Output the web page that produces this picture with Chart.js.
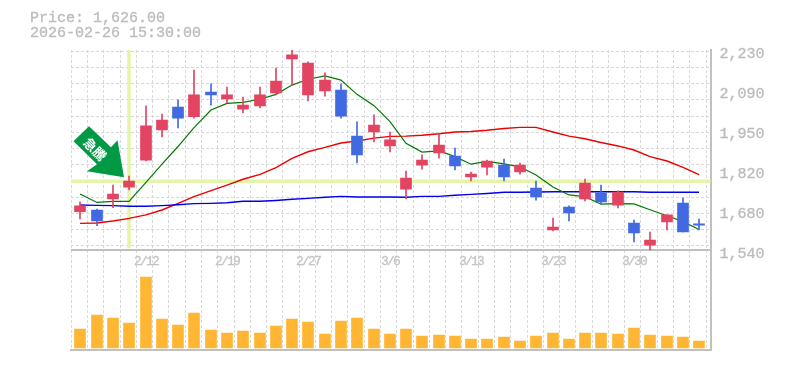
<!DOCTYPE html>
<html>
<head>
<meta charset="utf-8">
<script src="https://cdn.jsdelivr.net/npm/chart.js@4"></script>
<style>
html, body { margin: 0; padding: 0; background: #fff; }
#wrap { position: relative; width: 785px; height: 370px; }
#info { position: absolute; left: 30px; top: 11px; color: #bcbcbc; font: 15px/15px "Liberation Mono", monospace; white-space: pre; -webkit-text-stroke: 0.35px #bcbcbc; }
</style>
</head>
<body>
<div id="wrap">
  <canvas id="grafico" width="785" height="370"></canvas>
  <div id="info">Price: 1,626.00
2026-02-26 15:30:00</div>
</div>
<script>
// valores
var abertura = [1672,1678,1716,1757,1850,1954,2033,2000,2085,2061,2026,2037,2082,2199,2075,2089,2092,1933,1947,1899,1750,1833,1875,1864,1792,1826,1833,1809,1754,1609,1688,1716,1737,1695,1633,1557,1637,1702,1630]
var maxima = [1706,1681,1764,1795,2037,2009,2058,2161,2113,2102,2068,2102,2168,2230,2189,2151,2113,1982,2006,1947,1812,1868,1940,1892,1809,1850,1854,1840,1778,1650,1692,1785,1764,1744,1643,1602,1661,1719,1647]
var minima = [1647,1624,1686,1747,1847,1930,1961,1995,2040,2047,2013,2030,2075,2109,2054,2071,1995,1840,1913,1878,1716,1819,1857,1816,1778,1799,1778,1802,1712,1606,1640,1709,1699,1685,1568,1540,1609,1602,1609]
var fechamento = [1692,1640,1733,1778,1968,1988,1995,2075,2075,2075,2040,2075,2123,2213,2185,2126,2002,1868,1971,1920,1788,1850,1902,1830,1802,1847,1792,1833,1723,1619,1668,1771,1706,1740,1599,1574,1661,1602,1626]
var volume = [57,99,90,75,213,87,69,105,54,45,51,45,66,87,78,42,81,90,57,42,57,36,39,36,27,27,33,21,36,45,27,45,45,42,60,39,36,33,21]
var media_curta = [1733,1704,1708,1708,1773,1836,1897,1962,2023,2046,2049,2060,2077,2109,2129,2141,2126,2077,2038,1983,1908,1878,1882,1862,1836,1846,1837,1827,1799,1757,1730,1724,1698,1700,1699,1679,1658,1638,1611]
var media_longa = [1632,1633,1640,1649,1661,1678,1701,1724,1745,1764,1784,1801,1824,1856,1879,1894,1909,1916,1926,1932,1933,1936,1941,1947,1949,1953,1959,1963,1963,1947,1933,1924,1911,1899,1885,1862,1847,1825,1800]
var media_anual = [1695,1694,1693,1691,1691,1693,1696,1700,1701,1703,1708,1708,1711,1715,1718,1722,1725,1723,1723,1723,1722,1725,1725,1729,1732,1735,1739,1739,1740,1741,1741,1741,1741,1741,1741,1739,1739,1739,1739]
var datas_indice = [4,9,14,19,24,29,34]
var datas_texto = ['2/12','2/19','2/27','3/6','3/13','3/23','3/30']
var precos_eixo = [2230,2092,1954,1816,1678,1540]
var precos_texto = ['2,230','2,090','1,950','1,820','1,680','1,540']
var linha_sinal_x = 3
var linha_sinal_y = 1777

var indices = abertura.map((v, i) => i)
var X_MIN = -0.614, X_MAX = 38.7, GRADE_X = -0.6, PRECO_MIN = 1195, PRECO_MAX = 2230
var VERMELHO = '#e24462', AZUL = '#4169e1', AMARELO = '#e4f5a9', CINZA = '#c0c0c0', GRADE = '#d8d8d8'

function corCandle(i) {
    return fechamento[i] >= abertura[i] ? VERMELHO : AZUL
}

function linha(valores, cor, largura) {
    return {
        type: 'line', yAxisID: 'y', order: 4,
        data: indices.map(i => ({x: i, y: valores[i]})),
        borderColor: cor, borderWidth: largura, pointRadius: 0, tension: 0
    }
}

function linhaReta(pontos, cor, largura, ordem) {
    return {
        type: 'line', yAxisID: 'y', order: ordem, data: pontos,
        borderColor: cor, borderWidth: largura, pointRadius: 0, tension: 0
    }
}

// seta verde e datas do eixo, ancoradas nas escalas
const pluginExtras = {
    id: 'extras',
    afterDatasetsDraw(chart) {
        const ctx = chart.ctx
        const px = chart.scales.x.getPixelForValue(linha_sinal_x)
        const py = chart.scales.y.getPixelForValue(linha_sinal_y)
        ctx.save()
        ctx.translate(px, py)
        ctx.fillStyle = '#009944'
        ctx.beginPath()
        ctx.moveTo(-40, -55)
        ctx.lineTo(-55.5, -40)
        ctx.lineTo(-32, -17)
        ctx.lineTo(-42, -10)
        ctx.lineTo(-5, -4)
        ctx.lineTo(-11.5, -41)
        ctx.lineTo(-18, -34)
        ctx.closePath()
        ctx.fill()
        ctx.translate(-34, -32)
        ctx.rotate(Math.PI / 4)
        ctx.fillStyle = '#fff'
        ctx.font = 'bold 13px "Noto Sans CJK JP"'
        ctx.textAlign = 'center'
        ctx.textBaseline = 'middle'
        ctx.fillText('急騰', 0, 0)
        ctx.restore()

        ctx.save()
        ctx.font = '13px "Liberation Mono", monospace'
        ctx.letterSpacing = '-1.8px'
        ctx.fillStyle = '#c4c4c4'
        ctx.strokeStyle = '#c4c4c4'
        ctx.lineWidth = 0.3
        ctx.textAlign = 'center'
        ctx.textBaseline = 'middle'
        for (var i = 0; i < datas_indice.length; i++) {
            var xData = chart.scales.x.getPixelForValue(datas_indice[i])
            ctx.fillText(datas_texto[i], xData, 262)
            ctx.strokeText(datas_texto[i], xData, 262)
        }
        ctx.restore()
    }
}

const grafico = new Chart(document.getElementById('grafico').getContext('2d'), {
    type: 'bar',
    plugins: [pluginExtras],
    data: {
        datasets: [
            {
                // corpo dos candles
                yAxisID: 'y', order: 1, grouped: false, barThickness: 11,
                data: indices.map(i => ({x: i, y: [abertura[i], fechamento[i]]})),
                backgroundColor: indices.map(corCandle)
            },
            {
                // pavio dos candles
                yAxisID: 'y', order: 2, grouped: false, barThickness: 1,
                data: indices.map(i => ({x: i, y: [minima[i], maxima[i]]})),
                backgroundColor: indices.map(corCandle)
            },
            {
                yAxisID: 'yVolume', order: 3, grouped: false, barThickness: 11,
                data: indices.map(i => ({x: i, y: volume[i]})),
                backgroundColor: '#ffb733'
            },
            linha(media_curta, '#007a00', 1.2),
            linha(media_anual, '#0000ee', 1.4),
            linha(media_longa, '#ee0000', 1.4),
            linhaReta([{x: X_MIN, y: linha_sinal_y}, {x: X_MAX, y: linha_sinal_y}], AMARELO, 3.5, 5),
            linhaReta([{x: linha_sinal_x, y: 1546}, {x: linha_sinal_x, y: PRECO_MAX}], AMARELO, 3.5, 5),
            linhaReta([{x: X_MIN, y: 1540}, {x: X_MAX, y: 1540}], CINZA, 2, 6)
        ]
    },
    options: {
        responsive: false,
        animation: false,
        layout: { padding: { left: 70.5, top: 50, bottom: 20 } },
        plugins: { legend: { display: false }, tooltip: { enabled: false } },
        scales: {
            x: {
                type: 'linear', min: X_MIN, max: X_MAX, offset: false,
                alignToPixels: true,
                grid: { offset: false, color: GRADE, drawTicks: false },
                border: { color: CINZA, width: 2, dash: [3, 2] },
                ticks: { display: false },
                afterBuildTicks(scale) {
                    scale.ticks = Array.from({length: 40}, (v, k) => ({value: GRADE_X + k}))
                },
                afterFit(scale) { scale.height = 0 }
            },
            y: {
                position: 'right', min: PRECO_MIN, max: PRECO_MAX,
                grid: { display: false },
                border: { color: CINZA, width: 2 },
                ticks: {
                    color: '#bcbcbc', padding: 1, labelOffset: 4,
                    textStrokeColor: '#bcbcbc', textStrokeWidth: 0.35,
                    font: { family: '"Liberation Mono", monospace', size: 15 },
                    callback: (v) => precos_texto[precos_eixo.indexOf(v)]
                },
                afterBuildTicks(scale) {
                    scale.ticks = precos_eixo.map(v => ({value: v}))
                },
                afterFit(scale) { scale.width = 74.5 }
            },
            yGrade: {
                // grade horizontal so no painel de precos
                position: 'left', min: PRECO_MIN, max: PRECO_MAX,
                alignToPixels: true,
                grid: { color: GRADE, drawTicks: false },
                border: { display: false, dash: [3, 2] },
                ticks: { display: false },
                afterBuildTicks(scale) {
                    scale.ticks = Array.from({length: 13}, (v, k) => ({value: 2228 - 56 * k}))
                },
                afterFit(scale) { scale.width = 0 }
            },
            yVolume: {
                position: 'left', min: -6, max: 894, display: true,
                grid: { display: false },
                border: { display: false },
                ticks: { display: false },
                afterFit(scale) { scale.width = 0 }
            }
        }
    }
})
</script>
</body>
</html>
